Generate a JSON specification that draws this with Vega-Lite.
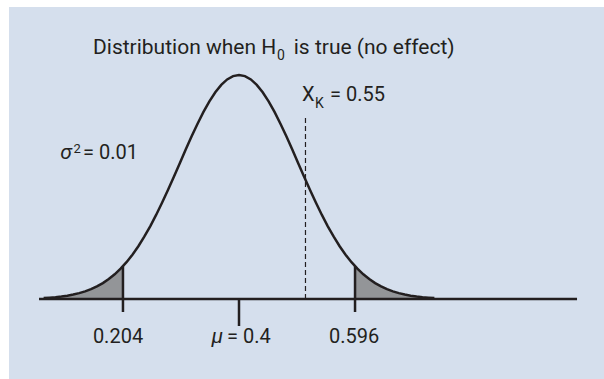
{
  "$schema": "https://vega.github.io/schema/vega-lite/v6.json",
  "width": 595,
  "height": 372,
  "autosize": {"type": "none"},
  "padding": {"left": 9, "top": 7, "right": 0, "bottom": 0},
  "background": "white",
  "config": {
    "view": {"stroke": null, "fill": "#d5dfed"},
    "text": {"font": "Roboto", "color": "#231f20", "baseline": "alphabetic"}
  },
  "datasets": {
    "curve": [
      {"x": 0.07, "y": 0.00432}, {"x": 0.08, "y": 0.00598}, {"x": 0.09, "y": 0.00819}, {"x": 0.10, "y": 0.01111},
      {"x": 0.11, "y": 0.01492}, {"x": 0.12, "y": 0.01984}, {"x": 0.13, "y": 0.02612}, {"x": 0.14, "y": 0.03405},
      {"x": 0.15, "y": 0.04394}, {"x": 0.16, "y": 0.05613}, {"x": 0.17, "y": 0.07101}, {"x": 0.18, "y": 0.08892},
      {"x": 0.19, "y": 0.11025}, {"x": 0.20, "y": 0.13534}, {"x": 0.21, "y": 0.16448}, {"x": 0.22, "y": 0.19790},
      {"x": 0.23, "y": 0.23575}, {"x": 0.24, "y": 0.27804}, {"x": 0.25, "y": 0.32465}, {"x": 0.26, "y": 0.37531},
      {"x": 0.27, "y": 0.42956}, {"x": 0.28, "y": 0.48675}, {"x": 0.29, "y": 0.54607}, {"x": 0.30, "y": 0.60653},
      {"x": 0.31, "y": 0.66698}, {"x": 0.32, "y": 0.72615}, {"x": 0.33, "y": 0.78270}, {"x": 0.34, "y": 0.83527},
      {"x": 0.35, "y": 0.88250}, {"x": 0.36, "y": 0.92312}, {"x": 0.37, "y": 0.95600}, {"x": 0.38, "y": 0.98020},
      {"x": 0.39, "y": 0.99501}, {"x": 0.40, "y": 1.0},
      {"x": 0.41, "y": 0.99501}, {"x": 0.42, "y": 0.98020}, {"x": 0.43, "y": 0.95600}, {"x": 0.44, "y": 0.92312},
      {"x": 0.45, "y": 0.88250}, {"x": 0.46, "y": 0.83527}, {"x": 0.47, "y": 0.78270}, {"x": 0.48, "y": 0.72615},
      {"x": 0.49, "y": 0.66698}, {"x": 0.50, "y": 0.60653}, {"x": 0.51, "y": 0.54607}, {"x": 0.52, "y": 0.48675},
      {"x": 0.53, "y": 0.42956}, {"x": 0.54, "y": 0.37531}, {"x": 0.55, "y": 0.32465}, {"x": 0.56, "y": 0.27804},
      {"x": 0.57, "y": 0.23575}, {"x": 0.58, "y": 0.19790}, {"x": 0.59, "y": 0.16448}, {"x": 0.60, "y": 0.13534},
      {"x": 0.61, "y": 0.11025}, {"x": 0.62, "y": 0.08892}, {"x": 0.63, "y": 0.07101}, {"x": 0.64, "y": 0.05613},
      {"x": 0.65, "y": 0.04394}, {"x": 0.66, "y": 0.03405}, {"x": 0.67, "y": 0.02612}, {"x": 0.68, "y": 0.01984},
      {"x": 0.69, "y": 0.01492}, {"x": 0.70, "y": 0.01111}, {"x": 0.71, "y": 0.00819}, {"x": 0.72, "y": 0.00598},
      {"x": 0.73, "y": 0.00432}
    ],
    "tails": [
      {"x": 0.07, "y": 0.00432, "side": "left"}, {"x": 0.08, "y": 0.00598, "side": "left"}, {"x": 0.09, "y": 0.00819, "side": "left"},
      {"x": 0.10, "y": 0.01111, "side": "left"}, {"x": 0.11, "y": 0.01492, "side": "left"}, {"x": 0.12, "y": 0.01984, "side": "left"},
      {"x": 0.13, "y": 0.02612, "side": "left"}, {"x": 0.14, "y": 0.03405, "side": "left"}, {"x": 0.15, "y": 0.04394, "side": "left"},
      {"x": 0.16, "y": 0.05613, "side": "left"}, {"x": 0.17, "y": 0.07101, "side": "left"}, {"x": 0.18, "y": 0.08892, "side": "left"},
      {"x": 0.19, "y": 0.11025, "side": "left"}, {"x": 0.20, "y": 0.13534, "side": "left"}, {"x": 0.204, "y": 0.14649, "side": "left"},
      {"x": 0.596, "y": 0.14649, "side": "right"}, {"x": 0.60, "y": 0.13534, "side": "right"}, {"x": 0.61, "y": 0.11025, "side": "right"},
      {"x": 0.62, "y": 0.08892, "side": "right"}, {"x": 0.63, "y": 0.07101, "side": "right"}, {"x": 0.64, "y": 0.05613, "side": "right"},
      {"x": 0.65, "y": 0.04394, "side": "right"}, {"x": 0.66, "y": 0.03405, "side": "right"}, {"x": 0.67, "y": 0.02612, "side": "right"},
      {"x": 0.68, "y": 0.01984, "side": "right"}, {"x": 0.69, "y": 0.01492, "side": "right"}, {"x": 0.70, "y": 0.01111, "side": "right"},
      {"x": 0.71, "y": 0.00819, "side": "right"}, {"x": 0.72, "y": 0.00598, "side": "right"}, {"x": 0.73, "y": 0.00432, "side": "right"}
    ],
    "ticks": [
      {"x": 0.204, "y": 0.14649, "y2": -0.058},
      {"x": 0.596, "y": 0.14649, "y2": -0.058},
      {"x": 0.4, "y": 0.0, "y2": -0.1205}
    ]
  },
  "encoding": {
    "x": {"field": "x", "type": "quantitative", "scale": {"domain": [0.01149, 1.01655], "nice": false, "zero": false}, "axis": null},
    "y": {"field": "y", "type": "quantitative", "scale": {"domain": [-0.35714, 1.30357], "nice": false, "zero": false}, "axis": null}
  },
  "layer": [
    {
      "data": {"name": "tails"},
      "mark": {"type": "area", "color": "#939598", "opacity": 1},
      "encoding": {"detail": {"field": "side"}, "y2": {"datum": 0}}
    },
    {
      "data": {"values": [{"x": 0.0622, "x2": 0.971, "y": 0}]},
      "mark": {"type": "rule", "color": "#231f20", "strokeWidth": 2.5},
      "encoding": {"x2": {"field": "x2"}}
    },
    {
      "data": {"name": "curve"},
      "mark": {"type": "line", "color": "#231f20", "strokeWidth": 2.5},
      "encoding": {}
    },
    {
      "data": {"name": "ticks"},
      "mark": {"type": "rule", "color": "#231f20", "strokeWidth": 2.5},
      "encoding": {"y2": {"field": "y2"}}
    },
    {
      "data": {"values": [{"x": 0.5123, "y": 0.0, "y2": 0.808}]},
      "mark": {"type": "rule", "color": "#231f20", "strokeWidth": 1.2, "strokeDash": [5, 3]},
      "encoding": {"y2": {"field": "y2"}}
    },
    {
      "data": {"values": [
        {"x": 0.1534, "y": 1.09375, "text": "Distribution when H"},
        {"x": 0.4925, "y": 1.09375, "text": "is true (no effect)"}
      ]},
      "mark": {"type": "text", "align": "left", "fontSize": 21},
      "encoding": {"text": {"field": "text"}}
    },
    {
      "data": {"values": [
        {"x": 0.4642, "y": 1.0670, "text": "0"}
      ]},
      "mark": {"type": "text", "align": "left", "fontSize": 14},
      "encoding": {"text": {"field": "text"}}
    },
    {
      "data": {"values": [
        {"x": 0.5064, "y": 0.8839, "text": "X"},
        {"x": 0.5537, "y": 0.8839, "text": "= 0.55"},
        {"x": 0.3797, "y": -0.1964, "text": "= 0.4"},
        {"x": 0.1365, "y": 0.625, "text": "= 0.01"}
      ]},
      "mark": {"type": "text", "align": "left", "fontSize": 20},
      "encoding": {"text": {"field": "text"}}
    },
    {
      "data": {"values": [
        {"x": 0.5284, "y": 0.8527, "text": "K"}
      ]},
      "mark": {"type": "text", "align": "left", "fontSize": 14},
      "encoding": {"text": {"field": "text"}}
    },
    {
      "data": {"values": [
        {"x": 0.1956, "y": -0.1964, "text": "0.204"},
        {"x": 0.5943, "y": -0.1964, "text": "0.596"}
      ]},
      "mark": {"type": "text", "align": "center", "fontSize": 20},
      "encoding": {"text": {"field": "text"}}
    },
    {
      "data": {"values": [
        {"x": 0.373, "y": -0.1964, "text": "μ"},
        {"x": 0.1175, "y": 0.625, "text": "σ"}
      ]},
      "mark": {"type": "text", "align": "right", "fontSize": 21, "fontStyle": "italic"},
      "encoding": {"text": {"field": "text"}}
    },
    {
      "data": {"values": [
        {"x": 0.1205, "y": 0.6518, "text": "2"}
      ]},
      "mark": {"type": "text", "align": "left", "fontSize": 13},
      "encoding": {"text": {"field": "text"}}
    }
  ]
}
